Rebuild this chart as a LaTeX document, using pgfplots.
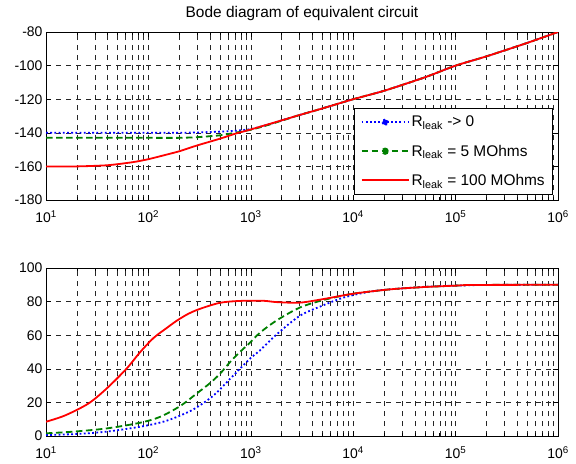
\documentclass[border=0pt]{standalone}
\usepackage{pgfplots}
\pgfplotsset{compat=1.18}
\usepackage{fontspec}
\setmainfont{Liberation Sans}
\definecolor{mblue}{rgb}{0,0,1}
\definecolor{mgreen}{rgb}{0,0.5,0}
\definecolor{mred}{rgb}{1,0,0}
\tikzset{
  blline/.style={mblue, line width=1.8bp, dash pattern=on 1.8bp off 2.4bp},
  grline/.style={mgreen, line width=1.8bp, dash pattern=on 6.5bp off 3.5bp},
  rdline/.style={mred, line width=1.8bp},
}
\begin{document}
\begin{tikzpicture}
\path[use as bounding box] (0bp,0bp) rectangle (576bp,-464bp);
\begin{axis}[
    scale only axis, width=512bp, height=168bp, anchor=south west, at={(46bp,-200bp)},
    xmode=log, xmin=10, xmax=1000000,
    xtick={10,100,1000,10000,100000,1000000},
    xticklabels={10\textsuperscript{1},10\textsuperscript{2},10\textsuperscript{3},10\textsuperscript{4},10\textsuperscript{5},10\textsuperscript{6}},
    minor xtick={20,30,40,50,60,70,80,90,200,300,400,500,600,700,800,900,2000,3000,4000,5000,6000,7000,8000,9000,20000,30000,40000,50000,60000,70000,80000,90000,200000,300000,400000,500000,600000,700000,800000,900000},
    grid=major, xminorgrids=true,
    major grid style={black!85, line width=0.45bp, dash pattern=on 5bp off 5bp},
    minor grid style={black!85, line width=0.45bp, dash pattern=on 5bp off 5bp},
    tick pos=both, tick align=inside,
    major tick length=5bp, minor tick length=3bp,
    every tick/.style={black, line width=0.5bp},
    axis line style={black, line width=0.6bp},
    tick label style={font=\fontsize{14}{16}\selectfont},
    xticklabel style={yshift=-7bp},
    /pgf/number format/assume math mode=true,
  ymin=-180, ymax=-80, ytick={-180,-160,-140,-120,-100,-80},
  title={Bode diagram of equivalent circuit},
  title style={font=\fontsize{15.5}{17}\selectfont, yshift=2bp},
  legend style={at={(1,0)}, anchor=south east, xshift=-5bp, yshift=5bp,
    draw=black, line width=0.6bp, font=\fontsize{15.5}{17}\selectfont,
    row sep=12.5bp, inner xsep=6bp, inner ysep=6bp},
  legend cell align=left,
]
\addplot[blline, smooth, tension=0.4, legend image code/.code={\draw[blline] (0bp,0bp) -- (47bp,0bp); \fill[mblue] (23.5bp,0bp) circle (2.7bp);}] coordinates {
(10,-140)(20,-140)(50,-140)(100,-140)(200,-140)(300,-139.8)(500,-139.3)(700,-138.8)(1000,-137.8)(1500,-135)(2000,-132.6)(3000,-129.4)(5000,-125.5)(10000,-120)(20000,-115)(50000,-107)(100000,-100)(200000,-94.5)(500000,-86.5)(1000000,-80)};
\addlegendentry{R\textsubscript{leak} -> 0}
\addplot[grline, smooth, tension=0.4, legend image code/.code={\draw[grline] (0bp,0bp) -- (47bp,0bp); \fill[mgreen] (23.5bp,0bp) circle (2.7bp);}] coordinates {
(10,-143)(50,-143)(100,-143)(200,-143)(300,-142.6)(500,-141.5)(700,-140)(1000,-138.2)(1500,-135.2)(2000,-132.8)(3000,-129.4)(5000,-125.5)(10000,-120)(20000,-115)(50000,-107)(100000,-100)(200000,-94.5)(500000,-86.5)(1000000,-80)};
\addlegendentry{R\textsubscript{leak} = 5 MOhms}
\addplot[rdline, smooth, tension=0.4, legend image code/.code={\draw[rdline] (0bp,0bp) -- (47bp,0bp);}] coordinates {
(10,-160)(20,-160)(40,-159.3)(70,-157.5)(100,-155.7)(150,-153)(200,-151)(300,-147.5)(500,-143.5)(700,-140.6)(1000,-138)(2000,-132.6)(3000,-129.4)(5000,-125.5)(10000,-120)(20000,-115)(50000,-107)(100000,-100)(200000,-94.5)(500000,-86.5)(1000000,-80)};
\addlegendentry{R\textsubscript{leak} = 100 MOhms}
\end{axis}
\begin{axis}[
    scale only axis, width=512bp, height=168bp, anchor=south west, at={(46bp,-436bp)},
    xmode=log, xmin=10, xmax=1000000,
    xtick={10,100,1000,10000,100000,1000000},
    xticklabels={10\textsuperscript{1},10\textsuperscript{2},10\textsuperscript{3},10\textsuperscript{4},10\textsuperscript{5},10\textsuperscript{6}},
    minor xtick={20,30,40,50,60,70,80,90,200,300,400,500,600,700,800,900,2000,3000,4000,5000,6000,7000,8000,9000,20000,30000,40000,50000,60000,70000,80000,90000,200000,300000,400000,500000,600000,700000,800000,900000},
    grid=major, xminorgrids=true,
    major grid style={black!85, line width=0.45bp, dash pattern=on 5bp off 5bp},
    minor grid style={black!85, line width=0.45bp, dash pattern=on 5bp off 5bp},
    tick pos=both, tick align=inside,
    major tick length=5bp, minor tick length=3bp,
    every tick/.style={black, line width=0.5bp},
    axis line style={black, line width=0.6bp},
    tick label style={font=\fontsize{14}{16}\selectfont},
    xticklabel style={yshift=-7bp},
    /pgf/number format/assume math mode=true,
  ymin=0, ymax=100, ytick={0,20,40,60,80,100},
]
\addplot[blline, smooth, tension=0.5] coordinates {
(10,0.6)(20,1.2)(39,2.6)(83,5.5)(130,8)(175,10.5)(274,15.8)(430,24)(650,35)(980,46)(1230,51)(1790,60.5)(3020,71.6)(5100,77.8)(7940,82.3)(12600,85.2)(20000,87)(50000,88.8)(100000,89.5)(200000,89.9)(1000000,90)};
\addplot[grline, smooth, tension=0.5] coordinates {
(10,1.6)(18.5,2.6)(39,4.5)(83,7.9)(130,11.4)(204,17.8)(295,25.2)(400,31.5)(501,37.1)(627,44)(783,50)(980,55.5)(1230,61.5)(1790,68.8)(3020,76.5)(5100,80.9)(9300,84.4)(14600,86)(25000,87.5)(50000,88.7)(100000,89.5)(150000,89.9)(1000000,90)};
\addplot[rdline, smooth, tension=0.5] coordinates {
(10,8.5)(15.3,12.2)(25.9,19.3)(39,28.2)(61,40)(83,49.9)(112,58.3)(151,64.3)(189,68.6)(243,72.6)(319,75.7)(501,79.3)(783,80.4)(1320,80.5)(1790,79.7)(3020,79.4)(5100,81.5)(9300,84.4)(14600,86)(25000,87.5)(50000,88.7)(100000,89.5)(150000,89.9)(1000000,90)};
\end{axis}
\end{tikzpicture}
\end{document}
